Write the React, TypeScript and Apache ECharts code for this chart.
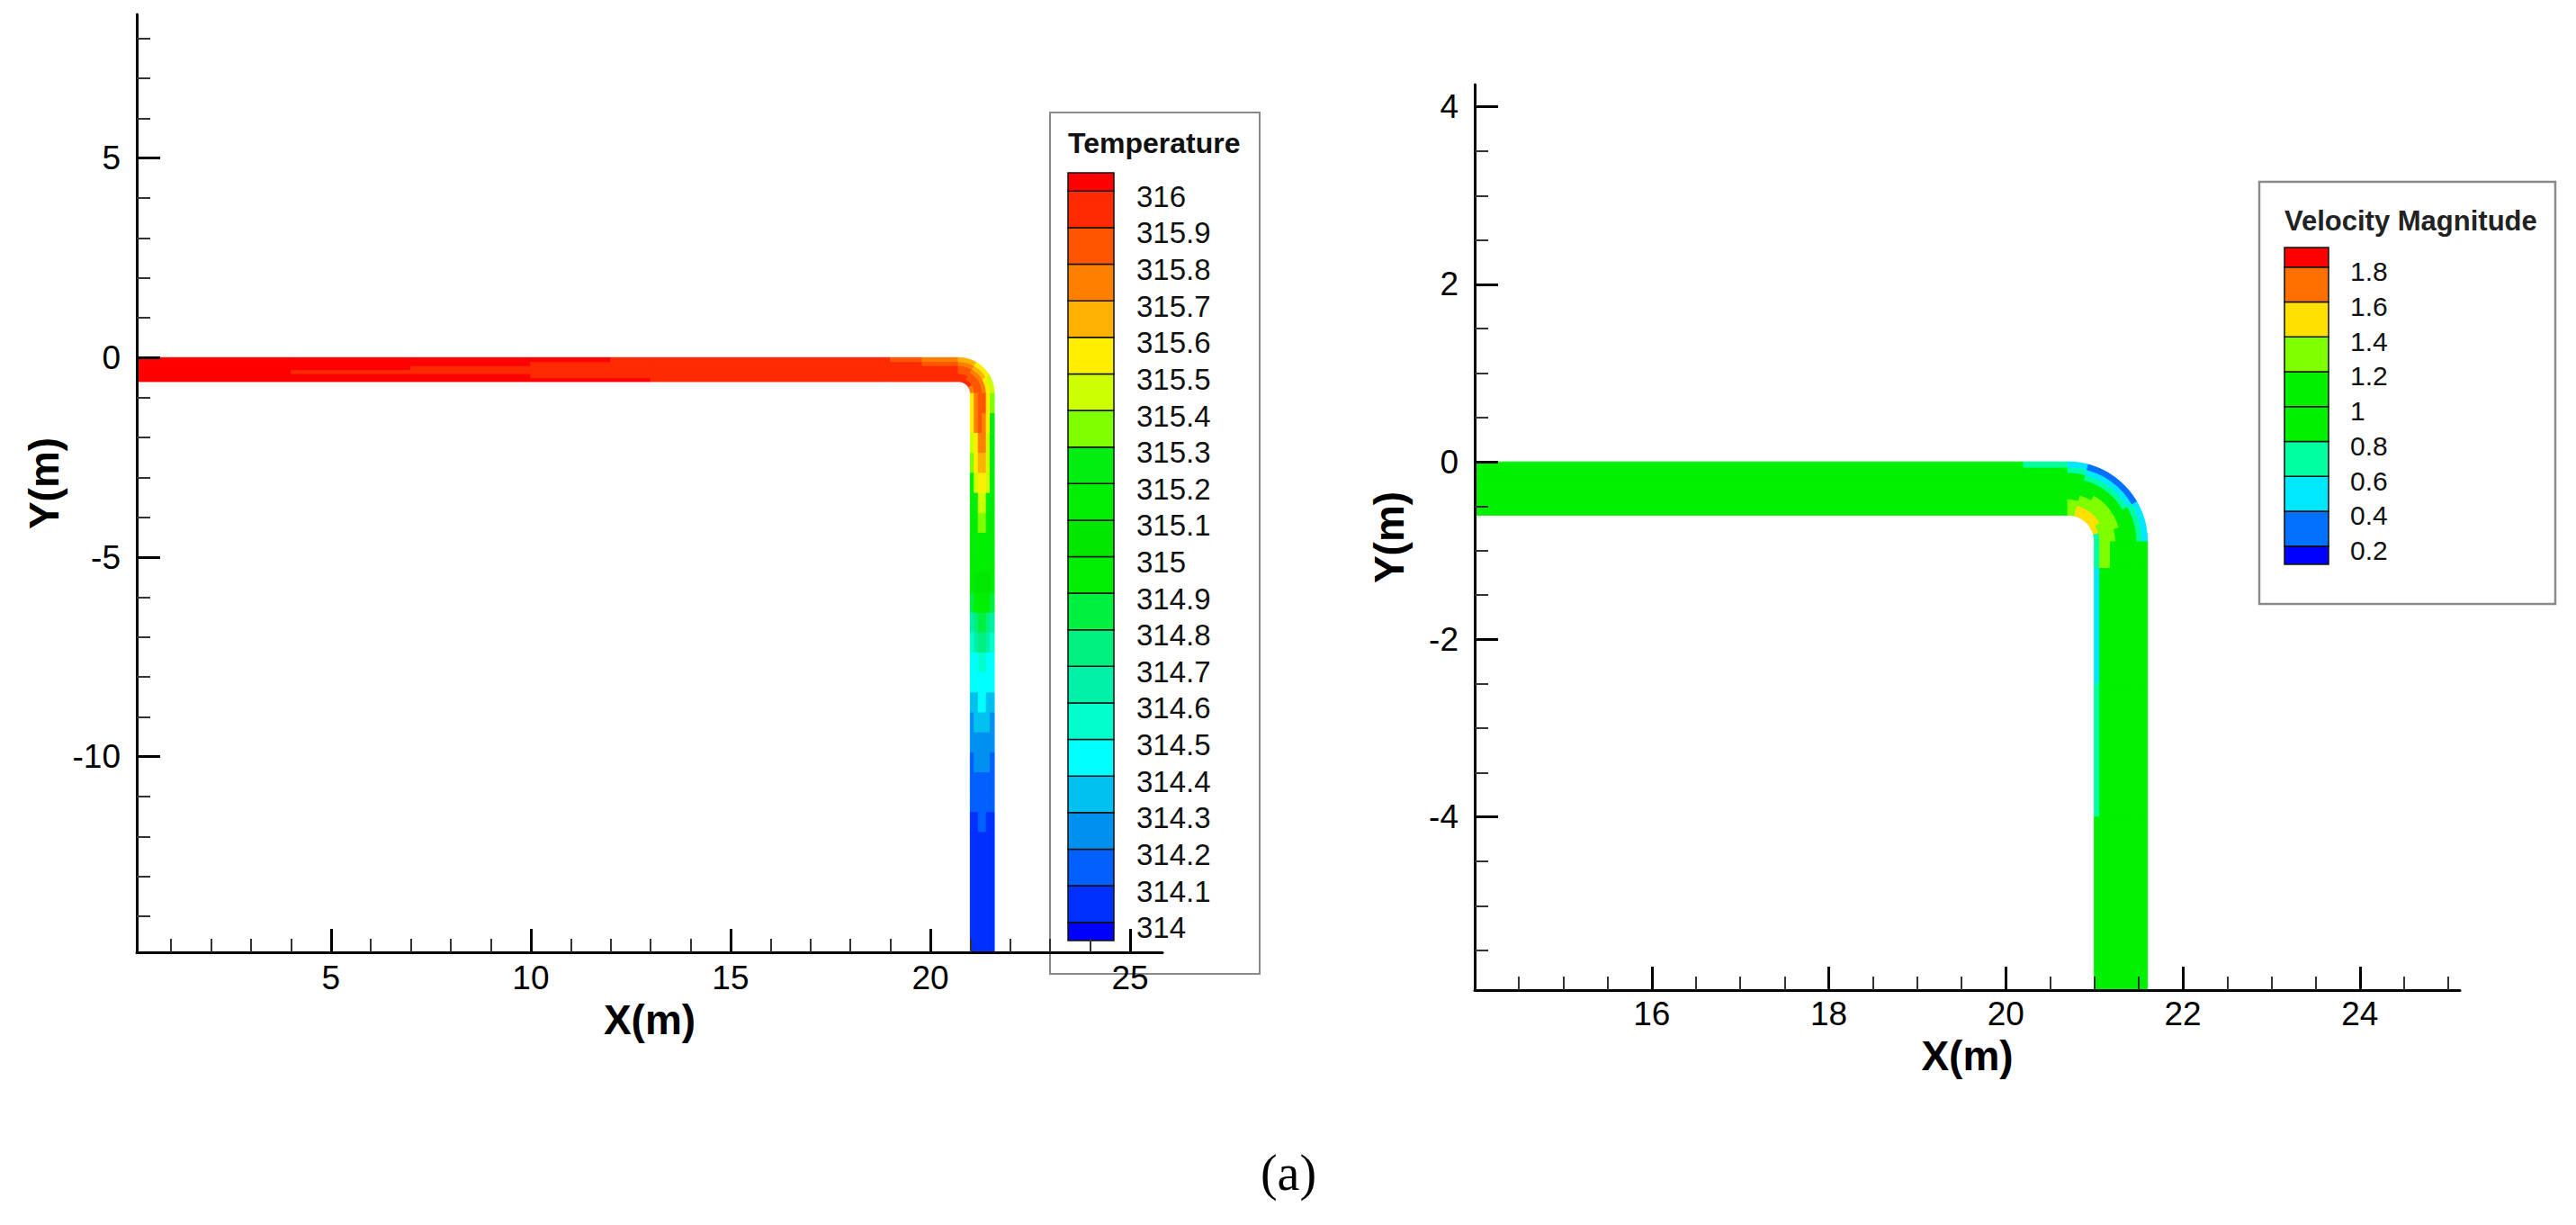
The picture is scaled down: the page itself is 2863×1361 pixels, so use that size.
import React, { useEffect, useRef } from 'react';
import * as echarts from 'echarts';

const SANS = '"Liberation Sans", Arial, Helvetica, sans-serif';
const SERIF = '"Liberation Serif", "DejaVu Serif", serif';

// ---------------- axes ----------------
const tempXRange = [0.14, 25.81];
const tempYRange = [-14.9, 8.6];
const tempXTicks = [5, 10, 15, 20, 25];
const tempYTicks = [-10, -5, 0, 5];
const velXRange = [14.0, 25.13];
const velYRange = [-5.95, 4.25];
const velXTicks = [16, 18, 20, 22, 24];
const velYTicks = [-4, -2, 0, 2, 4];

// ---------------- pipe geometry (m) ----------------
const PIPE_W = 0.6;
const PIPE_BOTTOM = -0.6;
const PIPE_XIN = 21.0;
const BEND_CX = 20.7;
const BEND_CY = -0.9;
const BEND_RIN = 0.3;

// ---------------- legends ----------------
const tempLabels = [316, 315.9, 315.8, 315.7, 315.6, 315.5, 315.4, 315.3, 315.2, 315.1, 315, 314.9, 314.8, 314.7, 314.6, 314.5, 314.4, 314.3, 314.2, 314.1, 314];
// colours from lowest band (<314) to highest (>316)
const tempColors = ['#0000FF', '#0030FF', '#0060FF', '#0090F0', '#00C0F0', '#00FFFF', '#00FFCC', '#00F0A8', '#00F080', '#00F040', '#00EE00', '#00E800', '#00EE00', '#00EE10', '#80FF00', '#CCFF00', '#FFEE00', '#FFB000', '#FF8000', '#FF5500', '#FF2A00', '#FF0000'];
const tempBarRange = [313.95, 316.05];

const velLabels = [1.8, 1.6, 1.4, 1.2, 1, 0.8, 0.6, 0.4, 0.2];
const velColors = ['#0000FF', '#0070FF', '#00E8FF', '#00FFA0', '#00F000', '#00F000', '#80FF00', '#FFE000', '#FF7000', '#FF0000'];
const velBarRange = [0.095, 1.912];

// ---------------- temperature field ----------------
// horizontal run: stations along x, values from lower (inner) wall to upper (outer) wall
const tempHorizStations = [0, 4, 7, 10, 12, 13, 19, 19.8, 20.7];
const tempHorizValues = [
  [316.05, 316.05, 316.05, 316.05, 316.05, 316.05],
  [316.05, 316.05, 315.95, 316.05, 316.05, 316.05],
  [316.05, 316.05, 315.95, 315.95, 316.05, 316.05],
  [316.05, 315.95, 315.95, 315.95, 315.95, 316.05],
  [316.05, 315.95, 315.95, 315.95, 315.95, 315.95],
  [315.95, 315.95, 315.95, 315.95, 315.95, 315.95],
  [315.95, 315.95, 315.95, 315.95, 315.95, 315.85],
  [315.95, 315.95, 315.95, 315.95, 315.85, 315.75],
];
// bend: stations in degrees, inner wall -> outer wall
const tempBendStations = [0, 30, 60, 90];
const tempBendValues = [
  [315.95, 315.95, 315.85, 315.85, 315.75, 315.65],
  [315.95, 315.85, 315.85, 315.75, 315.65, 315.55],
  [315.75, 315.85, 315.85, 315.75, 315.55, 315.45],
];
// vertical run: stations along y, values from left (inner) wall to right (outer) wall
const tempVertStations = [-0.9, -1.4, -1.9, -2.4, -2.9, -3.4, -3.9, -4.4, -5.4, -5.9, -6.4, -6.9, -7.4, -7.9, -8.4, -8.9, -9.4, -9.9, -10.4, -10.9, -11.4, -11.9, -14.9];
const tempVertValues = [
  [315.55, 315.75, 315.85, 315.85, 315.55, 315.35],
  [315.55, 315.75, 315.85, 315.75, 315.55, 315.25],
  [315.45, 315.55, 315.75, 315.75, 315.45, 315.25],
  [315.35, 315.55, 315.65, 315.65, 315.45, 315.25],
  [315.15, 315.45, 315.55, 315.55, 315.45, 315.15],
  [315.15, 315.25, 315.45, 315.45, 315.25, 315.15],
  [315.15, 315.15, 315.35, 315.35, 315.15, 315.15],
  [315.15, 315.15, 315.15, 315.15, 315.15, 315.15],
  [314.95, 315.05, 315.05, 315.05, 315.05, 314.95],
  [314.85, 314.95, 314.95, 314.95, 314.95, 314.85],
  [314.65, 314.75, 314.85, 314.85, 314.75, 314.65],
  [314.55, 314.65, 314.75, 314.75, 314.65, 314.55],
  [314.45, 314.45, 314.55, 314.55, 314.45, 314.45],
  [314.45, 314.45, 314.45, 314.45, 314.45, 314.45],
  [314.35, 314.35, 314.45, 314.45, 314.35, 314.35],
  [314.25, 314.35, 314.35, 314.35, 314.35, 314.25],
  [314.25, 314.25, 314.25, 314.25, 314.25, 314.25],
  [314.15, 314.25, 314.25, 314.25, 314.25, 314.15],
  [314.15, 314.15, 314.15, 314.15, 314.15, 314.15],
  [314.15, 314.15, 314.15, 314.15, 314.15, 314.15],
  [314.05, 314.05, 314.15, 314.15, 314.05, 314.05],
  [314.05, 314.05, 314.05, 314.05, 314.05, 314.05],
];

// ---------------- velocity field ----------------
const velHorizStations = [14.0, 20.2, 20.7];
const velHorizValues = [
  [1.1, 1.1, 1.1, 1.1, 1.1, 1.1, 1.1, 1.1, 1.1, 1.1],
  [1.1, 1.1, 1.1, 1.1, 1.1, 1.1, 1.1, 1.1, 1.1, 0.7],
];
const velBendStations = [0, 15, 30, 45, 60, 75, 90];
const velBendValues = [
  [1.3, 1.3, 1.3, 1.1, 1.1, 1.1, 1.1, 1.1, 0.7, 0.5],
  [1.5, 1.5, 1.3, 1.3, 1.1, 1.1, 1.1, 0.7, 0.5, 0.3],
  [1.5, 1.5, 1.3, 1.3, 1.3, 1.1, 1.1, 0.7, 0.5, 0.3],
  [1.5, 1.5, 1.3, 1.3, 1.3, 1.1, 1.1, 0.7, 0.5, 0.3],
  [1.5, 1.3, 1.3, 1.3, 1.3, 1.1, 1.1, 0.9, 0.7, 0.5],
  [0.7, 1.3, 1.3, 1.3, 1.1, 1.1, 1.1, 1.1, 0.7, 0.5],
];
const velVertStations = [-0.9, -1.2, -2.5, -4.0, -5.95];
const velVertValues = [
  [0.7, 1.3, 1.3, 1.1, 1.1, 1.1, 1.1, 1.1, 1.1, 0.9],
  [0.5, 0.9, 1.1, 1.1, 1.1, 1.1, 1.1, 1.1, 1.1, 1.1],
  [0.7, 1.1, 1.1, 1.1, 1.1, 1.1, 1.1, 1.1, 1.1, 1.1],
  [1.1, 1.1, 1.1, 1.1, 1.1, 1.1, 1.1, 1.1, 1.1, 1.1],
];

// ---------------- helpers ----------------
const KIND_H = 0, KIND_BEND = 1, KIND_V = 2;

function cells(kind: number, stations: number[], values: number[][]) {
  const out: number[][] = [];
  values.forEach((row, i) => {
    const m = row.length;
    row.forEach((v, j) => out.push([kind, stations[i], stations[i + 1], j / m, (j + 1) / m, v]));
  });
  return out;
}

function pipeXY(kind: number, a: number, n: number): number[] {
  if (kind === KIND_H) return [a, PIPE_BOTTOM + PIPE_W * n];
  if (kind === KIND_BEND) {
    const t = (a * Math.PI) / 180;
    const r = BEND_RIN + PIPE_W * n;
    return [BEND_CX + r * Math.sin(t), BEND_CY + r * Math.cos(t)];
  }
  return [PIPE_XIN + PIPE_W * n, a];
}

function bandIndex(v: number, levels: number[]) {
  let k = 0;
  for (const L of levels) if (v >= L) k++;
  return k;
}

function makePipeRenderer(levels: number[], colors: string[]) {
  return (params: any, api: any) => {
    const kind = api.value(0);
    const a0 = api.value(1), a1 = api.value(2), n0 = api.value(3), n1 = api.value(4), v = api.value(5);
    const steps = kind === KIND_BEND ? 10 : 1;
    const pts: number[][] = [];
    for (let k = 0; k <= steps; k++) pts.push(api.coord(pipeXY(kind, a0 + ((a1 - a0) * k) / steps, n0)));
    for (let k = steps; k >= 0; k--) pts.push(api.coord(pipeXY(kind, a0 + ((a1 - a0) * k) / steps, n1)));
    const c = colors[bandIndex(v, levels)];
    return { type: 'polygon', shape: { points: pts }, style: { fill: c, stroke: c, lineWidth: 1 } };
  };
}

function barBands(range: number[], levels: number[]) {
  const edges = [range[0], ...levels, range[1]];
  return edges.slice(0, -1).map((lo, i) => [lo, edges[i + 1], i]);
}

function makeBarRenderer(colors: string[]) {
  return (params: any, api: any) => {
    const lo = api.value(0), hi = api.value(1), idx = api.value(2);
    const p0 = api.coord([0, hi]);
    const p1 = api.coord([1, lo]);
    return {
      type: 'rect',
      shape: { x: p0[0], y: p0[1], width: p1[0] - p0[0], height: p1[1] - p0[1] },
      style: { fill: colors[idx], stroke: '#111', lineWidth: 1.5 },
    };
  };
}

function makeLabelRenderer(fontSize: number, dx: number, dy: number) {
  return (params: any, api: any) => {
    const v = api.value(1);
    const p = api.coord([1, v]);
    return {
      type: 'text',
      x: p[0] + dx,
      y: p[1] + dy,
      style: {
        text: String(Number(v.toFixed(1))),
        fill: '#111',
        fontSize,
        fontFamily: SANS,
        align: 'left',
        verticalAlign: 'middle',
        textAlign: 'left',
        textVerticalAlign: 'middle',
      },
    };
  };
}

function fieldAxis(gridIndex: number, range: number[], ticks: number[], minorSplit: number, name: string, nameGap: number, labelMargin: number) {
  return {
    type: 'value',
    gridIndex,
    min: range[0],
    max: range[1],
    z: 10,
    name,
    nameLocation: 'middle',
    nameGap,
    nameTextStyle: { fontFamily: SANS, fontWeight: 'bold', fontSize: 46, color: '#000' },
    axisLine: { show: true, onZero: false, lineStyle: { color: '#000', width: 3 } },
    axisTick: { show: true, inside: true, length: 26, customValues: ticks, lineStyle: { color: '#000', width: 3 } },
    minorTick: { show: true, splitNumber: minorSplit, length: 15, lineStyle: { color: '#333', width: 2 } },
    axisLabel: { show: true, customValues: ticks, margin: labelMargin, color: '#000', fontFamily: SANS, fontSize: 37 },
    splitLine: { show: false },
    minorSplitLine: { show: false },
  };
}

function hiddenAxis(gridIndex: number, range: number[]) {
  return { type: 'value', gridIndex, min: range[0], max: range[1], show: false, splitLine: { show: false } };
}

function buildOption() {
  const tempLevels = [...tempLabels].reverse();
  const velLevels = [...velLabels].reverse();
  const tempCells = [
    ...cells(KIND_H, tempHorizStations, tempHorizValues),
    ...cells(KIND_BEND, tempBendStations, tempBendValues),
    ...cells(KIND_V, tempVertStations, tempVertValues),
  ];
  const velCells = [
    ...cells(KIND_H, velHorizStations, velHorizValues),
    ...cells(KIND_BEND, velBendStations, velBendValues),
    ...cells(KIND_V, velVertStations, velVertValues),
  ];
  return {
    animation: false,
    backgroundColor: '#ffffff',
    grid: [
      { left: 152, top: 16, width: 1140, height: 1042, containLabel: false, outerBoundsMode: 'none' },
      { left: 1639, top: 94, width: 1095, height: 1006, containLabel: false, outerBoundsMode: 'none' },
      { left: 1187, top: 192, width: 51, height: 853, containLabel: false, outerBoundsMode: 'none' },
      { left: 2539, top: 275, width: 49, height: 352, containLabel: false, outerBoundsMode: 'none' },
    ],
    xAxis: [
      fieldAxis(0, tempXRange, tempXTicks, 5, 'X(m)', 43, 10),
      fieldAxis(1, velXRange, velXTicks, 4, 'X(m)', 34, 8),
      hiddenAxis(2, [0, 1]),
      hiddenAxis(3, [0, 1]),
    ],
    yAxis: [
      fieldAxis(0, tempYRange, tempYTicks, 5, 'Y(m)', 80, 18),
      fieldAxis(1, velYRange, velYTicks, 4, 'Y(m)', 72, 18),
      hiddenAxis(2, tempBarRange),
      hiddenAxis(3, velBarRange),
    ],
    graphic: [
      { type: 'rect', z: 1, shape: { x: 1167, y: 125, width: 233, height: 957 }, style: { fill: 'none', stroke: '#8a8a8a', lineWidth: 2 } },
      { type: 'text', z: 5, x: 1187, y: 159, style: { text: 'Temperature', fill: '#111', fontSize: 32, fontWeight: 'bold', fontFamily: SANS, align: 'left', verticalAlign: 'middle', textAlign: 'left', textVerticalAlign: 'middle' } },
      { type: 'rect', z: 1, shape: { x: 2511, y: 202, width: 329, height: 469 }, style: { fill: 'none', stroke: '#8a8a8a', lineWidth: 2.5 } },
      { type: 'text', z: 5, x: 2539, y: 245, style: { text: 'Velocity Magnitude', fill: '#222', fontSize: 31, fontWeight: 'bold', fontFamily: SANS, align: 'left', verticalAlign: 'middle', textAlign: 'left', textVerticalAlign: 'middle' } },
      { type: 'text', z: 5, x: 1432, y: 1303, style: { text: '(a)', fill: '#000', fontSize: 56, fontFamily: SERIF, align: 'center', verticalAlign: 'middle', textAlign: 'center', textVerticalAlign: 'middle' } },
    ],
    series: [
      { type: 'custom', name: 'Temperature', xAxisIndex: 0, yAxisIndex: 0, clip: true, silent: true, z: 2, renderItem: makePipeRenderer(tempLevels, tempColors), data: tempCells },
      { type: 'custom', name: 'Velocity Magnitude', xAxisIndex: 1, yAxisIndex: 1, clip: true, silent: true, z: 2, renderItem: makePipeRenderer(velLevels, velColors), data: velCells },
      { type: 'custom', name: 'Temperature bar', xAxisIndex: 2, yAxisIndex: 2, silent: true, z: 3, renderItem: makeBarRenderer(tempColors), data: barBands(tempBarRange, tempLevels) },
      { type: 'custom', name: 'Temperature labels', xAxisIndex: 2, yAxisIndex: 2, silent: true, z: 3, renderItem: makeLabelRenderer(33, 25, 6), data: tempLabels.map((v) => [1, v]) },
      { type: 'custom', name: 'Velocity bar', xAxisIndex: 3, yAxisIndex: 3, silent: true, z: 3, renderItem: makeBarRenderer(velColors), data: barBands(velBarRange, velLevels) },
      { type: 'custom', name: 'Velocity labels', xAxisIndex: 3, yAxisIndex: 3, silent: true, z: 3, renderItem: makeLabelRenderer(30, 24, 5), data: velLabels.map((v) => [1, v]) },
    ],
  };
}

export default function App() {
  const ref = useRef<HTMLDivElement>(null);
  useEffect(() => {
    const chart = echarts.init(ref.current as HTMLDivElement, null, { renderer: 'svg' });
    chart.setOption(buildOption() as any);
    return () => chart.dispose();
  }, []);
  return (
    <div
      ref={ref}
      style={{ position: 'fixed', left: 0, top: 0, width: 2863, height: 1361, background: '#ffffff' }}
    />
  );
}
